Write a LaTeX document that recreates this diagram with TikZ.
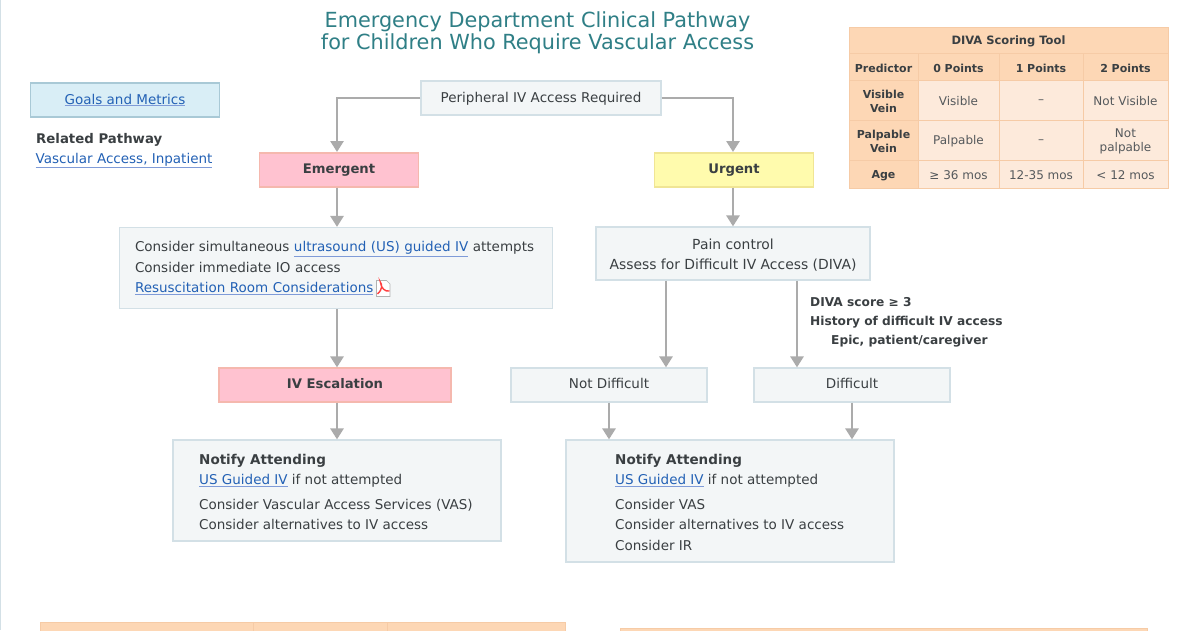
\documentclass[tikz,border=0pt]{standalone}
\usepackage{fontspec}
\setmainfont{DejaVu Sans}
\usetikzlibrary{arrows.meta,calc}
\definecolor{ink}{HTML}{3A3F42}
\definecolor{soft}{HTML}{55595C}
\definecolor{linkc}{HTML}{2361B5}
\definecolor{linkl}{HTML}{7F9BD8}
\definecolor{teal1}{HTML}{2F7F86}
\definecolor{boxf}{HTML}{F3F6F7}
\definecolor{boxd}{HTML}{D3E0E6}
\definecolor{arr}{HTML}{ABABAB}
\definecolor{pinkf}{HTML}{FFC2D0}
\definecolor{pinkd}{HTML}{F5B8AE}
\definecolor{yelf}{HTML}{FFFBAD}
\definecolor{yeld}{HTML}{F0E595}
\definecolor{goalf}{HTML}{D9EEF6}
\definecolor{goald}{HTML}{A9C9D6}
\definecolor{peach}{HTML}{FDD7B5}
\definecolor{peachl}{HTML}{FDEADB}
\definecolor{peachd}{HTML}{F6CBA6}
\newcommand{\lnk}[1]{\textcolor{linkl}{\underline{\textcolor{linkc}{#1}}}}
\tikzset{
 x=1pt,y=-1pt,
 every node/.style={font=\fontsize{13.5}{20.5}\selectfont,text=ink,inner sep=0pt},
 sized/.style 2 args={minimum width=#1pt,minimum height=#2pt},
 flowbox/.style={draw=boxd,line width=1.2pt,fill=boxf,align=center},
 emerg/.style={draw=pinkd,line width=1.2pt,fill=pinkf,font=\fontsize{13.2}{16}\selectfont\bfseries},
 urg/.style={draw=yeld,line width=1.2pt,fill=yelf,font=\fontsize{13.2}{16}\selectfont\bfseries},
 conn/.style={draw=arr,line width=2.7pt,-{Triangle[length=11pt,width=13pt]}},
 cellh/.style={draw=peachd,line width=1pt,fill=peach},
 cellb/.style={draw=peachd,line width=1pt,fill=peachl},
 texth/.style={align=center,font=\fontsize{11}{13.5}\selectfont\bfseries},
 textb/.style={align=center,text=soft,font=\fontsize{12}{14.5}\selectfont},
 notef/.style={font=\fontsize{12.2}{19}\selectfont\bfseries,align=left,anchor=north west},
}
% name, x, y, w, h, kind (h or b), text
\newcommand{\tcell}[7]{%
 \node[cell#6,sized={#4}{#5}] (#1) at (#2,#3) {};
 \node[text#6] (#1t) at ($(#1.center)+(0,1.5)$) {#7};}
\begin{document}
\begin{tikzpicture}
\useasboundingbox (0,0) rectangle (1200,630);
\fill[white] (0,0) rectangle (1200,630);
\fill[boxd] (0,0) rectangle (1.3,630);
% title
\node[text=teal1,font=\fontsize{20.8}{22}\selectfont,align=center] (title) at (537.5,33) {Emergency Department Clinical Pathway\\for Children Who Require Vascular Access};
% goals
\node[draw=goald,line width=1.4pt,fill=goalf,sized={189}{34}] (goals) at (125,100) {\lnk{Goals and Metrics}};
\node[anchor=west,font=\fontsize{13.3}{16}\selectfont\bfseries] (rel) at (36,140) {Related Pathway};
\node[anchor=west] (vasc) at (35.5,160.5) {\lnk{Vascular Access, Inpatient}};
% flow
\node[flowbox,sized={240}{34}] (top) at (541,98) {};
\node (toptext) at (541,99) {Peripheral IV Access Required};
\node[emerg,sized={159}{34}] (em) at (339,170) {Emergent};
\node[urg,sized={159}{34}] (ur) at (734,170) {Urgent};
\node[flowbox,sized={433}{81},align=left,text width=402pt] (con) at (336,268) {Consider simultaneous \lnk{ultrasound (US) guided IV} attempts\\Consider immediate IO access\\\lnk{Resuscitation Room Considerations}};
\node[flowbox,sized={274}{53}] (pain) at (733,253.5) {};
\node[align=center,font=\fontsize{13.9}{20.5}\selectfont] (paintext) at (733,255) {Pain control\\Assess for Difficult IV Access (DIVA)};
\node[emerg,sized={232}{34}] (esc) at (335,385) {};
\node[font=\fontsize{13.2}{16}\selectfont\bfseries] (esctext) at (335,384) {IV Escalation};
\node[flowbox,sized={196}{34}] (nd) at (609,385) {};
\node (ndtext) at (609,383) {Not Difficult};
\node[flowbox,sized={196}{34}] (di) at (852,385) {};
\node (ditext) at (852,383) {Difficult};
\node[flowbox,sized={328}{101}] (na) at (337,490.5) {};
\node[anchor=north west,align=left] (natext) at (199,454) {\textbf{Notify Attending}\\\lnk{US Guided IV} if not attempted\\[4pt]Consider Vascular Access Services (VAS)\\Consider alternatives to IV access};
\node[flowbox,sized={328}{122}] (nb) at (730,501) {};
\node[anchor=north west,align=left] (nbtext) at (615,454) {\textbf{Notify Attending}\\\lnk{US Guided IV} if not attempted\\[4pt]Consider VAS\\Consider alternatives to IV access\\Consider IR};
\node[notef] (diva) at (810,297) {DIVA score ≥ 3\\History of difficult IV access\\\hspace*{21pt}Epic, patient/caregiver};
% pdf icon
\coordinate (pdfa) at (376.5,280.5);
\fill[white,draw=black!30,line width=.7pt] (pdfa) -- ++(10,0) -- ++(3.5,3.5) -- ++(0,12.5) -- ++(-13.5,0) -- cycle;
\draw[red!75!white,line width=1.4pt] (377.5,294) .. controls (383,289) and (382,284) .. (380.5,282.5) .. controls (381,288) and (385,292) .. (389.5,291);
% connectors
\coordinate (emtop) at (337,152);
\coordinate (urtop) at (733,152);
\draw[conn] (top.west) -| (emtop);
\draw[conn] (top.east) -| (urtop);
\draw[conn] (em.south -| emtop) -- (con.north -| emtop);
\draw[conn] (ur.south -| urtop) -- (pain.north -| urtop);
\draw[conn] (con.south -| emtop) -- (esc.north -| emtop);
\coordinate (xnd) at (666,300);
\coordinate (xdi) at (797,300);
\draw[conn] (pain.south -| xnd) -- (nd.north -| xnd);
\draw[conn] (pain.south -| xdi) -- (di.north -| xdi);
\draw[conn] (esc.south -| emtop) -- (na.north -| emtop);
\draw[conn] (nd.south) -- (nb.north -| nd.south);
\draw[conn] (di.south) -- (nb.north -| di.south);
% DIVA table
\node[cellh,sized={319}{26}] (t0) at (1008.5,40) {};
\node[font=\fontsize{11.5}{14}\selectfont\bfseries] (t0t) at (1008.5,41.5) {DIVA Scoring Tool};
\tcell{h0}{883.5}{66.5}{69}{27}{h}{Predictor}
\tcell{h1}{958.5}{66.5}{81}{27}{h}{0 Points}
\tcell{h2}{1041}{66.5}{84}{27}{h}{1 Points}
\tcell{h3}{1125.5}{66.5}{85}{27}{h}{2 Points}
\tcell{ra}{883.5}{100}{69}{40}{h}{Visible\\Vein}
\tcell{rb}{958.5}{100}{81}{40}{b}{Visible}
\tcell{rc}{1041}{100}{84}{40}{b}{--}
\tcell{rd}{1125.5}{100}{85}{40}{b}{Not Visible}
\tcell{sa}{883.5}{140}{69}{40}{h}{Palpable\\Vein}
\tcell{sb}{958.5}{140}{81}{40}{b}{Palpable}
\tcell{sc}{1041}{140}{84}{40}{b}{--}
\tcell{sd}{1125.5}{140}{85}{40}{b}{Not\\palpable}
\tcell{ua}{883.5}{174}{69}{28}{h}{Age}
\tcell{ub}{958.5}{174}{81}{28}{b}{≥ 36 mos}
\tcell{uc}{1041}{174}{84}{28}{b}{12-35 mos}
\tcell{ud}{1125.5}{174}{85}{28}{b}{< 12 mos}
% partial tables at the bottom edge
\fill[peach] (40,622) rectangle (565,632);
\draw[peachd,line width=1pt] (40,632) -- (40,622.5) -- (565,622.5) -- (565,632);
\draw[peachd,line width=1pt] (253,622.5) -- (253,632) (387,622.5) -- (387,632);
\fill[peach] (620,628) rectangle (1147,632);
\draw[peachd,line width=1pt] (620,632) -- (620,628.5) -- (1147,628.5) -- (1147,632);
\end{tikzpicture}
\end{document}
